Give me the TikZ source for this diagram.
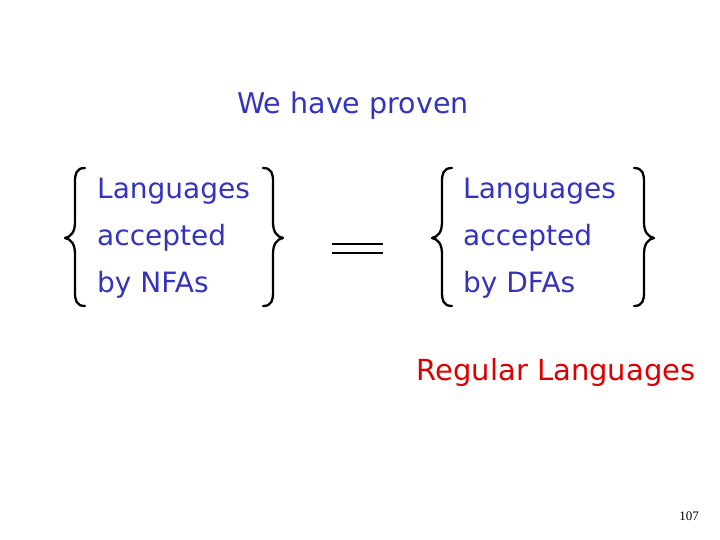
\documentclass[tikz,border=0pt]{standalone}
\usepackage{fontspec}
\setmainfont{DejaVu Sans}
\newfontfamily\numfont{Liberation Serif}
\definecolor{txtblue}{RGB}{51,51,190}
\definecolor{txtred}{RGB}{220,0,0}
\begin{document}
\begin{tikzpicture}[x=1pt,y=-1pt,
  bluetext/.style={text=txtblue,font=\fontsize{28}{47}\selectfont,inner sep=0pt,align=left,anchor=west},
  brace/.style={draw=black,line width=2.3pt,line cap=round,line join=round},
  eqline/.style={draw=black,line width=1.8pt}]
\useasboundingbox (0,0) rectangle (720,540);
\node[text=txtblue,font=\fontsize{28.5}{34}\selectfont,inner sep=0pt] (title) at (353,106) {We have proven};
\node[bluetext] (nfa) at (97,238) {Languages\\accepted\\by NFAs};
\node[bluetext] (dfa) at (463,238) {Languages\\accepted\\by DFAs};
\node[text=txtred,font=\fontsize{29}{34}\selectfont,inner sep=0pt] (reg) at (556,372) {Regular Languages};
\node[font=\numfont\fontsize{13}{15}\selectfont,inner sep=0pt] (num) at (689,516) {107};
% left group braces
\path[brace] (85,168) .. controls (76,168) and (75,174) .. (75,182) -- (75,222)
  .. controls (75,232) and (71,237) .. (65,238)
  .. controls (71,239) and (75,244) .. (75,254) -- (75,292)
  .. controls (75,300) and (76,306) .. (85,306);
\path[brace] (263,168) .. controls (272,168) and (273,174) .. (273,182) -- (273,222)
  .. controls (273,232) and (277,237) .. (283,238)
  .. controls (277,239) and (273,244) .. (273,254) -- (273,292)
  .. controls (273,300) and (272,306) .. (263,306);
% right group braces
\path[brace] (452,168) .. controls (443,168) and (442,174) .. (442,182) -- (442,222)
  .. controls (442,232) and (438,237) .. (432,238)
  .. controls (438,239) and (442,244) .. (442,254) -- (442,292)
  .. controls (442,300) and (443,306) .. (452,306);
\path[brace] (634,168) .. controls (643,168) and (644,174) .. (644,182) -- (644,222)
  .. controls (644,232) and (648,237) .. (654,238)
  .. controls (648,239) and (644,244) .. (644,254) -- (644,292)
  .. controls (644,300) and (643,306) .. (634,306);
% equals sign
\path[eqline] (332,244) -- (383,244);
\path[eqline] (332,253) -- (383,253);
\end{tikzpicture}
\end{document}
